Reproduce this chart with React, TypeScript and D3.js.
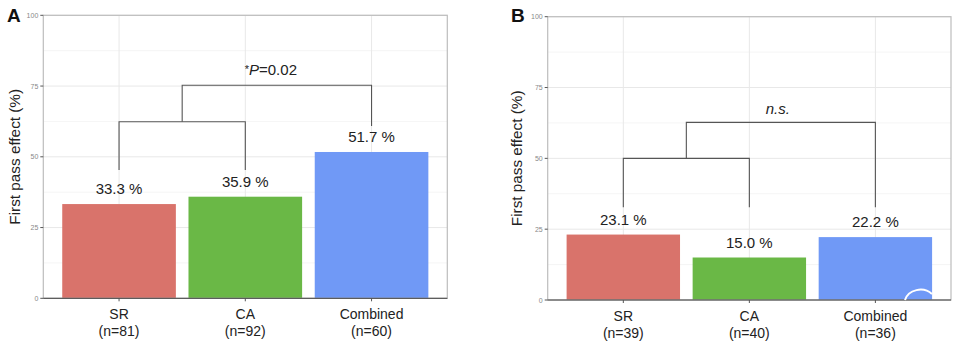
import React from "react";
import * as d3 from "d3";

const categories = ["SR", "CA", "Combined"];
const nA = [81, 92, 60];
const valuesA = [33.3, 35.9, 51.7];
const nB = [39, 40, 36];
const valuesB = [23.1, 15.0, 22.2];
const yTicks = [0, 25, 50, 75, 100];
const yMinor = [12.5, 37.5, 62.5, 87.5];
const colors = ["#d9736b", "#6ab846", "#7099f6"];
// bracket: [lowerY, legLeftY, legRightY, upperY, upperRightLegY, labelY]
const bracketA = [62.4, 45.3, 45.3, 75.3, 60.9, 81.0];
const bracketB = [50.0, 32.7, 32.7, 62.7, 32.7, 67.6];

const FONT = "Liberation Sans, Arial, Helvetica, sans-serif";

type PanelProps = {
  left: number; right: number; top: number; bottom: number;
  values: number[]; ns: number[]; bracket: number[];
  letter: string; letterX: number; titleX: number; label: React.ReactNode; labelDx: number;
};

function Panel({ left, right, top, bottom, values, ns, bracket, letter, letterX, titleX, label, labelDx }: PanelProps) {
  const x = d3.scalePoint<string>().domain(categories).range([left, right]).padding(0.6);
  const y = d3.scaleLinear().domain([0, 100]).range([bottom, top]);
  const step = x.step();
  const bw = step * 0.9;
  const cx = categories.map((c) => x(c) as number);
  const [lo, l1, l2, up, r3, lab] = bracket;
  const mid = (cx[0] + cx[1]) / 2;
  return (
    <g>
      {yMinor.map((t) => (
        <line key={"m" + t} x1={left} x2={right} y1={y(t)} y2={y(t)} stroke="#f2f2f2" strokeWidth={0.8} />
      ))}
      {yTicks.map((t) => (
        <line key={"g" + t} x1={left} x2={right} y1={y(t)} y2={y(t)} stroke="#e8e8e8" strokeWidth={1} />
      ))}
      {cx.map((c, i) => (
        <line key={"v" + i} x1={c} x2={c} y1={top} y2={bottom} stroke="#e8e8e8" strokeWidth={1} />
      ))}
      {values.map((v, i) => (
        <rect key={"b" + i} x={cx[i] - bw / 2} y={y(v)} width={bw} height={y(0) - y(v)} fill={colors[i]} />
      ))}
      <rect x={left} y={top} width={right - left} height={bottom - top} fill="none" stroke="#bdbdbd" strokeWidth={1.2} />
      <line x1={left} x2={right} y1={bottom} y2={bottom} stroke="#444" strokeWidth={1} />
      {yTicks.map((t) => (
        <g key={"t" + t}>
          <line x1={left - 3} x2={left} y1={y(t)} y2={y(t)} stroke="#555" />
          <text x={left - 5} y={y(t) + 2.5} fontSize={7} fill="#888" textAnchor="end" fontFamily={FONT}>{t}</text>
        </g>
      ))}
      {cx.map((c, i) => (
        <g key={"x" + i}>
          <line x1={c} x2={c} y1={bottom} y2={bottom + 3} stroke="#555" />
          <text x={c} y={bottom + 21} fontSize={14} fill="#222" textAnchor="middle" fontFamily={FONT}>{categories[i]}</text>
          <text x={c} y={bottom + 38} fontSize={14} fill="#222" textAnchor="middle" fontFamily={FONT}>{`(n=${ns[i]})`}</text>
        </g>
      ))}
      {values.map((v, i) => (
        <text key={"l" + i} x={cx[i]} y={y(v) - 10} fontSize={15} fill="#222" textAnchor="middle" fontFamily={FONT}>
          {`${v.toFixed(1)} %`}
        </text>
      ))}
      <path
        d={`M${cx[0]},${y(l1)}V${y(lo)}H${cx[1]}V${y(l2)}`}
        fill="none" stroke="#555" strokeWidth={1.1}
      />
      <path
        d={`M${mid},${y(lo)}V${y(up)}H${cx[2]}V${y(r3)}`}
        fill="none" stroke="#555" strokeWidth={1.1}
      />
      <text x={(mid + cx[2]) / 2 + labelDx} y={y(lab) + 5.5} fontSize={15} fill="#222" textAnchor="middle" fontFamily={FONT}>{label}</text>
      <text x={letterX} y={22} fontSize={19} fontWeight="bold" fill="#111" fontFamily={FONT}>{letter}</text>
      <text
        transform={`translate(${titleX},${(top + bottom) / 2}) rotate(-90)`}
        fontSize={15.3} fill="#222" textAnchor="middle" dominantBaseline="middle" fontFamily={FONT}
      >First pass effect (%)</text>
    </g>
  );
}

export default function App() {
  return (
    <svg width={962} height={346} style={{ position: "absolute", left: 0, top: 0, background: "#fff" }}>
      <rect x={0} y={0} width={962} height={346} fill="#fff" />
      <Panel left={43.3} right={447.3} top={15.3} bottom={298.3} values={valuesA} ns={nA} bracket={bracketA}
        letter="A" letterX={7} titleX={16} labelDx={-6}
        label={<><tspan fontSize={11} dy={-2}>*</tspan><tspan fontStyle="italic" dy={2}>P</tspan><tspan>=0.02</tspan></>} />
      <Panel left={547.7} right={951} top={16.7} bottom={300} values={valuesB} ns={nB} bracket={bracketB}
        letter="B" letterX={511} titleX={518} labelDx={-3}
        label={<tspan fontStyle="italic">n.s.</tspan>} />
      <path d="M905,300 A16,14 0 0 1 932,294" fill="none" stroke="#fff" strokeWidth={2} />
    </svg>
  );
}
